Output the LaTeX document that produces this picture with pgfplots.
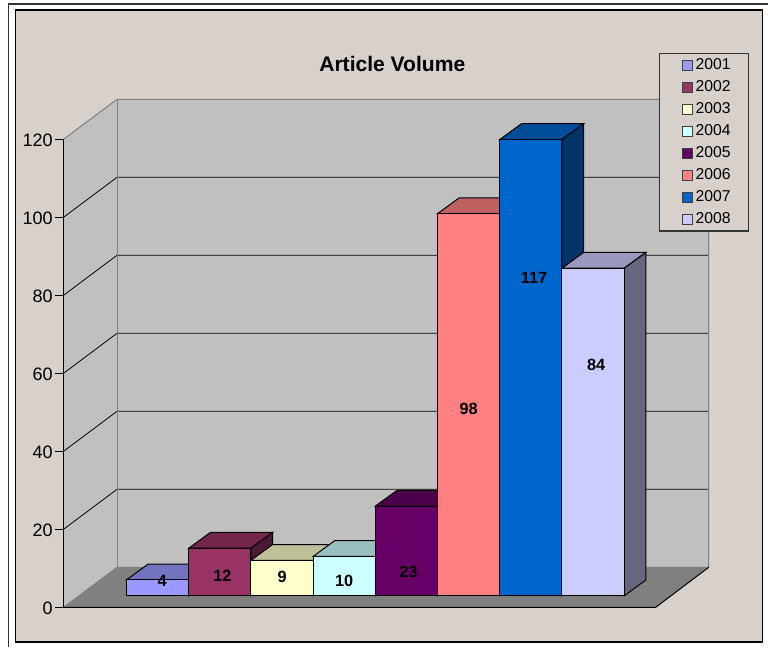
\documentclass[border=0pt]{standalone}
\usepackage{fontspec}
\setmainfont{Liberation Sans}
\usepackage{pgfplots}
\pgfplotsset{compat=1.18}

\definecolor{chartbg}{HTML}{D8D0CA}
\definecolor{wall}{HTML}{C0C0C0}
\definecolor{floorc}{HTML}{808080}
% front, top, side of each bar
\definecolor{fa}{HTML}{9999FF}\definecolor{ta}{HTML}{7373BF}\definecolor{sa}{HTML}{4D4D80}
\definecolor{fb}{HTML}{993366}\definecolor{tb}{HTML}{732649}\definecolor{sb}{HTML}{4D1A33}
\definecolor{fc}{HTML}{FFFFCC}\definecolor{tc}{HTML}{BFBF99}\definecolor{sc}{HTML}{808066}
\definecolor{fd}{HTML}{CCFFFF}\definecolor{td}{HTML}{99BFBF}\definecolor{sd}{HTML}{668080}
\definecolor{fe}{HTML}{660066}\definecolor{te}{HTML}{4C004C}\definecolor{se}{HTML}{330033}
\definecolor{ff}{HTML}{FF8080}\definecolor{tf}{HTML}{BF6060}\definecolor{sf}{HTML}{804040}
\definecolor{fg}{HTML}{0066CC}\definecolor{tg}{HTML}{004C99}\definecolor{sg}{HTML}{003366}
\definecolor{fh}{HTML}{CCCCFF}\definecolor{th}{HTML}{9999BF}\definecolor{sh}{HTML}{666680}

% #1 position, #2 value, #3 colour letter
\newcommand{\threedbar}[3]{%
  \pgfmathsetmacro{\xl}{#1-0.5}\pgfmathsetmacro{\xr}{#1+0.5}%
  \pgfmathsetmacro{\xq}{#1+0.5+0.349}\pgfmathsetmacro{\xp}{#1-0.5+0.349}%
  \pgfmathsetmacro{\yt}{#2+4.05}%
  \addplot[fill=t#3, draw=black, line width=.75pt, forget plot]
    coordinates {(\xl,#2) (\xp,\yt) (\xq,\yt) (\xr,#2)} -- cycle;
  \addplot[fill=s#3, draw=black, line width=.75pt, forget plot]
    coordinates {(\xr,0) (\xq,4.05) (\xq,\yt) (\xr,#2)} -- cycle;
  \addplot[ybar, bar width=1, bar shift=0pt, fill=f#3, draw=black, line width=.75pt, forget plot]
    coordinates {(#1,#2)};
}
\pgfplotsset{
  swatch/.style={legend image code/.code={\path (-4.8pt,0pt); \draw[#1, draw=black!75, line width=.6pt] (0pt,-3.6pt) rectangle (7.6pt,3.6pt);}},
}

\begin{document}
\begin{tikzpicture}
\begin{scope}[x=.75pt,y=-.75pt]
\useasboundingbox (0,0) rectangle (768,647);
\draw[line width=.9pt, black!80] (8.5,647) -- (8.5,4) -- (768,4);
\draw[fill=chartbg, draw=black, line width=.9pt] (15.5,10) rectangle (762.7,642);
\node[font=\bfseries\fontsize{15.8}{18}\selectfont] at (392.3,64) {Article Volume};
\end{scope}

% walls and floor, x in pixels across the front edge
\begin{axis}[
  at={(47.625pt,-455.475pt)}, anchor=south west,
  scale only axis, width=444.15pt, height=351pt,
  xmin=63.5, xmax=655.7, ymin=0, ymax=120,
  clip=false,
  axis on top,
  hide x axis,
  axis y line*=left,
  axis line style={black, line width=.75pt},
  ytick={0,20,...,120},
  ytick pos=left,
  tick style={black, line width=.75pt},
  ytick align=outside,
  major tick length=6pt,
  /pgf/number format/assume math mode=true,
  yticklabel style={font=\fontsize{13.5}{15}\selectfont, inner sep=0pt, yshift=-1pt, xshift=-2pt},
]
\addplot[fill=wall, draw=none] coordinates {(117,10.256) (708.7,10.256) (708.7,130.256) (117,130.256)} -- cycle;
\addplot[fill=wall, draw=none] coordinates {(63.5,0) (117,10.256) (117,130.256) (63.5,120)} -- cycle;
\addplot[fill=floorc, draw=none] coordinates {(63.5,0) (655.7,0) (708.7,10.256) (117,10.256)} -- cycle;
% gridlines on both walls
\addplot[black, line width=.6pt] coordinates {(63.5,20) (117,30.256) (708.7,30.256)};
\addplot[black, line width=.6pt] coordinates {(63.5,40) (117,50.256) (708.7,50.256)};
\addplot[black, line width=.6pt] coordinates {(63.5,60) (117,70.256) (708.7,70.256)};
\addplot[black, line width=.6pt] coordinates {(63.5,80) (117,90.256) (708.7,90.256)};
\addplot[black, line width=.6pt] coordinates {(63.5,100) (117,110.256) (708.7,110.256)};
% wall edges
\addplot[floorc, line width=.75pt] coordinates {(63.5,120) (117,130.256) (708.7,130.256) (708.7,10.256)};
\addplot[floorc, line width=.75pt] coordinates {(117,130.256) (117,10.256)};
\addplot[floorc, line width=.75pt] coordinates {(63.5,0) (117,10.256) (708.7,10.256)};
\addplot[black, line width=.75pt] coordinates {(63.5,0) (655.7,0) (708.7,10.256)};
% value axis and its ticks
\addplot[black, line width=.75pt] coordinates {
  (55,0) (63.5,0) (63.5,20) (55,20) (63.5,20) (63.5,40) (55,40) (63.5,40)
  (63.5,60) (55,60) (63.5,60) (63.5,80) (55,80) (63.5,80) (63.5,100) (55,100)
  (63.5,100) (63.5,120) (55,120)};
\end{axis}

% bars in front of the walls
\begin{axis}[
  at={(94.875pt,-446.85pt)}, anchor=south west,
  scale only axis, width=373.275pt, height=351pt,
  xmin=-0.5, xmax=7.5, ymin=0, ymax=120,
  clip=false,
  hide axis,
  legend cell align=left,
  legend style={
    at={(1.0703,1.1602)}, anchor=north west,
    fill=chartbg, draw=black!80, line width=.9pt,
    font=\fontsize{11.8}{13}\selectfont,
    inner xsep=11.7pt, inner ysep=2pt,
    row sep=2.75pt,
    /tikz/every even column/.append style={column sep=2pt},
  },
]
\addlegendimage{swatch={fill=fa}}\addlegendentry{2001}
\addlegendimage{swatch={fill=fb}}\addlegendentry{2002}
\addlegendimage{swatch={fill=fc}}\addlegendentry{2003}
\addlegendimage{swatch={fill=fd}}\addlegendentry{2004}
\addlegendimage{swatch={fill=fe}}\addlegendentry{2005}
\addlegendimage{swatch={fill=ff}}\addlegendentry{2006}
\addlegendimage{swatch={fill=fg}}\addlegendentry{2007}
\addlegendimage{swatch={fill=fh}}\addlegendentry{2008}

\threedbar{0}{4.1}{a}
\threedbar{1}{12.2}{b}
\threedbar{2}{9.1}{c}
\threedbar{3}{10.1}{d}
\threedbar{4}{23}{e}
\threedbar{5}{98}{f}
\threedbar{6}{117}{g}
\threedbar{7}{84}{h}

\begin{scope}[every node/.style={font=\bfseries\fontsize{12.2}{14}\selectfont, inner sep=0pt}]
\node at (axis cs:0.074,3.9) {4};
\node at (axis cs:1.04,5.2) {12};
\node at (axis cs:2,4.8) {9};
\node at (axis cs:3,3.9) {10};
\node at (axis cs:4.03,6.1) {23};
\node at (axis cs:5,47.8) {98};
\node at (axis cs:6.05,81.6) {117};
\node at (axis cs:7.05,59.3) {84};
\end{scope}
\end{axis}
\end{tikzpicture}
\end{document}
